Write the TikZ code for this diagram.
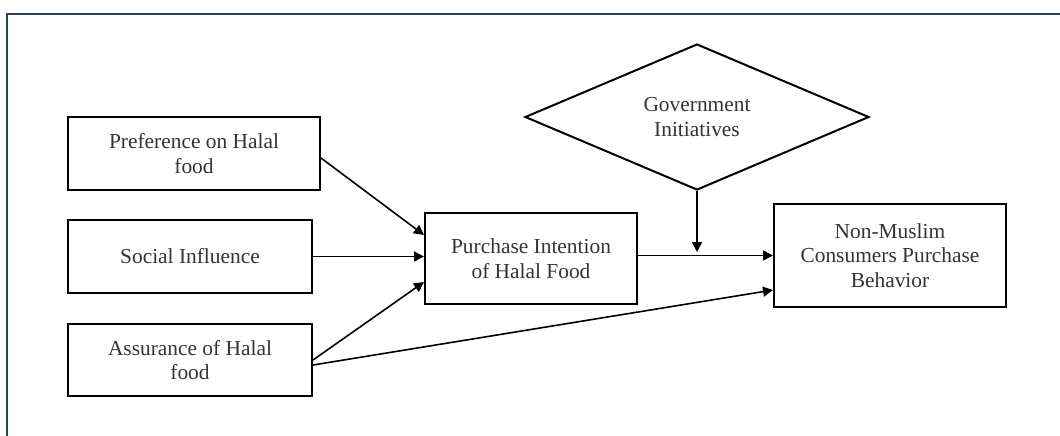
\documentclass[tikz,border=0pt]{standalone}
\usepackage{fontspec}
\setmainfont{Liberation Serif}
\usepackage{xcolor}
\usepackage{tikz}
\usetikzlibrary{shapes.geometric,arrows.meta}
\definecolor{framenavy}{rgb}{0.17, 0.26, 0.38}
\definecolor{labelgray}{rgb}{0.2, 0.2, 0.2}

\begin{document}
\begin{tikzpicture}[x=0.5pt, y=-0.5pt,
    factor/.style={draw=black, line width=1pt, text=labelgray, align=center,
        inner sep=0pt, font=\fontsize{10.7}{12.3}\selectfont},
    link/.style={-{Triangle[length=5pt, width=5pt]}, line width=0.8pt}]

    % Page size and the outer frame (only top and left edge are visible)
    \useasboundingbox (0,0) rectangle (1060,435);
    \draw[framenavy, line width=1.2pt] (7,440) -- (7,14) -- (1065,14);

    % Independent variables on the left
    \node(pref)[factor, minimum width=126pt, minimum height=36.5pt] at (194,153.5) {Preference on Halal\\food};
    \node(soc)[factor, minimum width=122pt, minimum height=36.5pt] at (190,256.5) {Social Influence};
    \node(assur)[factor, minimum width=122pt, minimum height=36pt] at (190,360) {Assurance of Halal\\food};

    % Mediator and outcome
    \node(purch)[factor, minimum width=106pt, minimum height=45.5pt] at (531,258.5) {Purchase Intention\\of Halal Food};
    \node(nonm)[factor, minimum width=116pt, minimum height=51.5pt] at (890,255.5) {Non-Muslim\\Consumers Purchase\\Behavior};

    % Moderator
    \node(gov)[factor, diamond, aspect=2.36, minimum width=172pt, minimum height=73pt] at (697,117) {Government\\Initiatives};

    % Paths into the purchase intention
    \draw[link] ([yshift=-2.25pt]pref.east) -- ([yshift=11.75pt]purch.west);
    \draw[link] (soc.east) -- (soc.east -| purch.west);
    \draw[link] (assur.east) -- ([yshift=-11.75pt]purch.west);

    % Paths into the purchase behavior
    \draw[link] (purch.east |- nonm.west) -- (nonm.west);
    \draw[link] ([yshift=-2.5pt]assur.east) -- ([yshift=-17.25pt]nonm.west);
    \draw[link, shorten >=1.75pt] (gov.south) -- (gov.south |- nonm.west);

\end{tikzpicture}
\end{document}
